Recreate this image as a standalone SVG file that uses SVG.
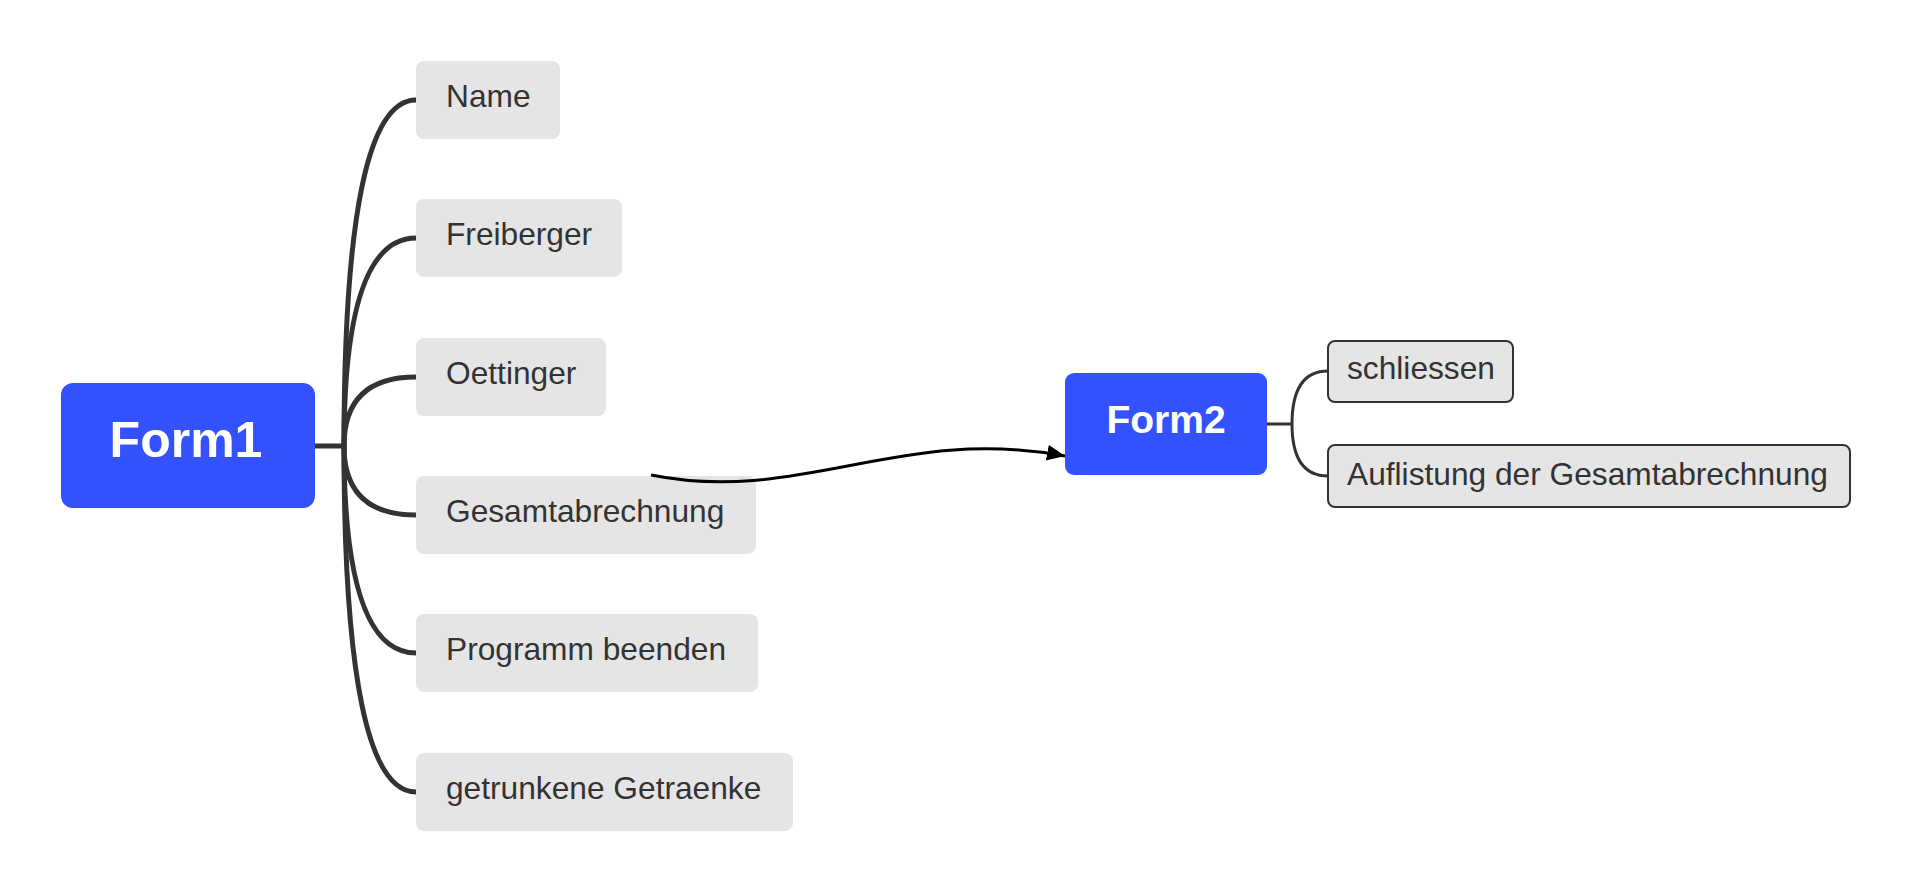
<svg xmlns="http://www.w3.org/2000/svg" width="1910" height="892" viewBox="0 0 1910 892">
  <style>
    .root rect { fill: #3351FF; }
    .root text { fill: #FFFFFF; font-family: "Liberation Sans", Arial, sans-serif; font-weight: bold; text-anchor: middle; }
    .leaf rect { fill: #E5E5E5; }
    .leaf text { fill: #333333; font-family: "Liberation Sans", Arial, sans-serif; font-size: 31.7px; }
    .sub rect { fill: #E5E5E5; stroke: #333333; stroke-width: 2; }
    .branch { fill: none; stroke: #333333; stroke-width: 5; }
    .branch2 { fill: none; stroke: #333333; stroke-width: 3; }
    .rel { fill: none; stroke: #000000; stroke-width: 3; }
  </style>
  <defs>
    <marker id="arrow" markerUnits="userSpaceOnUse" markerWidth="20" markerHeight="18" refX="18" refY="8" orient="auto">
      <path d="M0,0 L18,8 L0,16 z" fill="#000000"/>
    </marker>
  </defs>
  <rect width="1910" height="892" fill="#FFFFFF"/>

  <g id="connectors">
    <path class="branch" d="M315,446 H344"/>
    <path class="branch" d="M344,446 Q344,100 416,100"/>
    <path class="branch" d="M344,446 Q344,238 416,238"/>
    <path class="branch" d="M344,446 Q344,377 416,377"/>
    <path class="branch" d="M344,446 Q344,515 416,515"/>
    <path class="branch" d="M344,446 Q344,653 416,653"/>
    <path class="branch" d="M344,446 Q344,792 416,792"/>
    <path class="branch2" d="M1267,424 H1292"/>
    <path class="branch2" d="M1292,424 Q1292,371 1328,371"/>
    <path class="branch2" d="M1292,424 Q1292,476 1328,476"/>
  </g>

  <g id="form1" class="root">
    <rect x="61" y="383" width="254" height="125" rx="12"/>
    <text x="186" y="457" font-size="50">Form1</text>
  </g>
  <g id="name" class="leaf">
    <rect x="416" y="61" width="144" height="78" rx="8"/>
    <text x="446" y="107">Name</text>
  </g>
  <g id="freiberger" class="leaf">
    <rect x="416" y="199" width="206" height="78" rx="8"/>
    <text x="446" y="245">Freiberger</text>
  </g>
  <g id="oettinger" class="leaf">
    <rect x="416" y="338" width="190" height="78" rx="8"/>
    <text x="446" y="384">Oettinger</text>
  </g>
  <g id="gesamtabrechnung" class="leaf">
    <rect x="416" y="476" width="340" height="78" rx="8"/>
    <text x="446" y="522">Gesamtabrechnung</text>
  </g>
  <g id="programm-beenden" class="leaf">
    <rect x="416" y="614" width="342" height="78" rx="8"/>
    <text x="446" y="660">Programm beenden</text>
  </g>
  <g id="getrunkene-getraenke" class="leaf">
    <rect x="416" y="753" width="377" height="78" rx="8"/>
    <text x="446" y="799">getrunkene Getraenke</text>
  </g>
  <g id="form2" class="root">
    <rect x="1065" y="373" width="202" height="102" rx="9"/>
    <text x="1166" y="433" font-size="39">Form2</text>
  </g>
  <g id="schliessen" class="leaf sub">
    <rect x="1328" y="341" width="185" height="61" rx="7"/>
    <text x="1347" y="379">schliessen</text>
  </g>
  <g id="auflistung" class="leaf sub">
    <rect x="1328" y="445" width="522" height="62" rx="7"/>
    <text x="1347" y="485">Auflistung der Gesamtabrechnung</text>
  </g>

  <g id="relations">
    <path class="rel" d="M651,475 C800,505 900,425 1065,456" marker-end="url(#arrow)"/>
  </g>
</svg>
